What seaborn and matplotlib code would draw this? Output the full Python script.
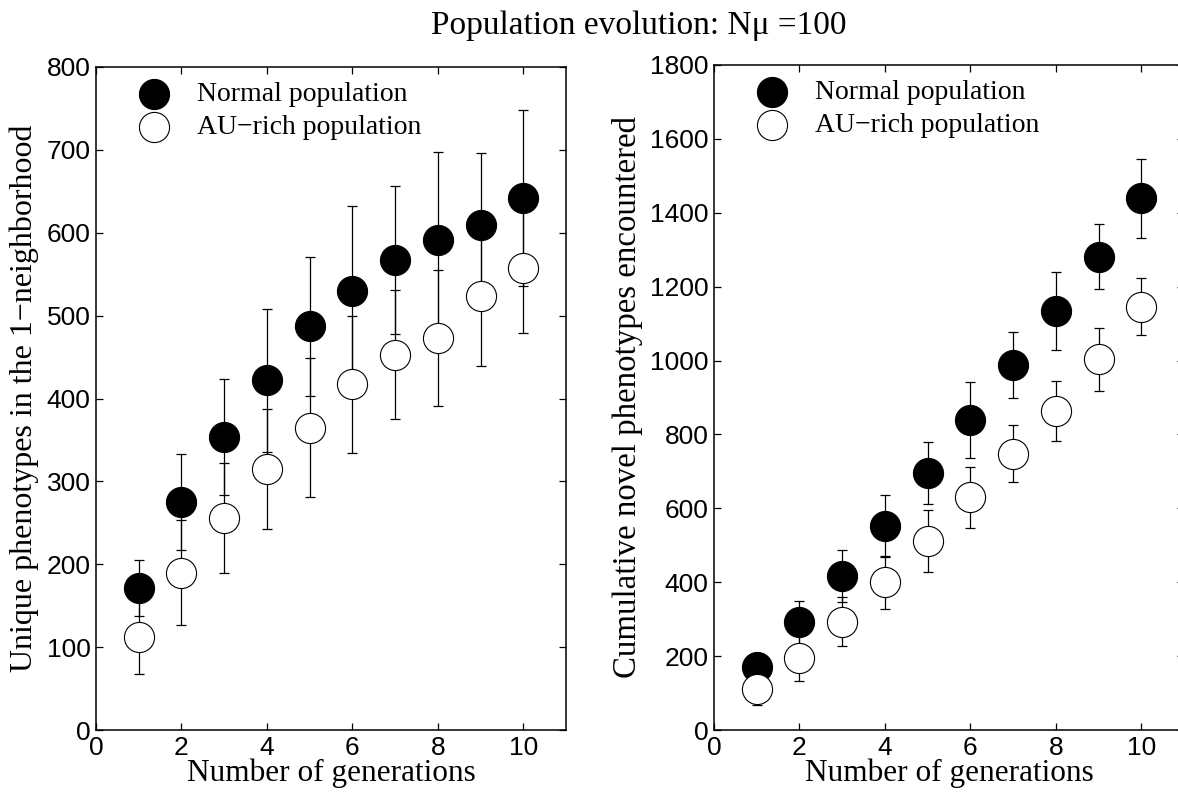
import matplotlib
matplotlib.use("Agg")
import matplotlib.pyplot as plt
import numpy as np
import pandas as pd
import seaborn as sns

# values
generations = [1, 2, 3, 4, 5, 6, 7, 8, 9, 10]

unique_normal = [171, 275, 353, 422, 487, 530, 567, 591, 609, 642]
unique_normal_err = [34, 58, 70, 86, 84, 102, 89, 106, 87, 106]
unique_au = [112, 190, 256, 315, 365, 417, 453, 473, 524, 557]
unique_au_err = [44, 63, 66, 72, 84, 83, 78, 82, 85, 78]

cumul_normal = [170, 291, 417, 552, 695, 839, 988, 1135, 1281, 1439]
cumul_normal_err = [34, 58, 70, 85, 84, 102, 88, 106, 88, 106]
cumul_au = [111, 196, 293, 400, 511, 630, 748, 864, 1003, 1146]
cumul_au_err = [44, 63, 66, 72, 84, 83, 78, 82, 85, 77]

label_normal = "Normal population"
label_au = "AU\u2212rich population"

sns.set_style("ticks", {"xtick.direction": "in", "ytick.direction": "in"})
plt.rcParams["font.family"] = ["Liberation Sans", "DejaVu Sans"]
plt.rcParams["axes.linewidth"] = 1.1
for k in ["text.color", "axes.labelcolor", "xtick.color", "ytick.color",
          "axes.edgecolor"]:
    plt.rcParams[k] = "black"
serif = ["Liberation Serif", "DejaVu Serif"]

W, H = 1178, 794
fig = plt.figure(figsize=(W / 100, H / 100), dpi=100)
ax0 = fig.add_axes([96 / W, (H - 730) / H, 470 / W, 663 / H])
ax1 = fig.add_axes([714 / W, (H - 730) / H, 470 / W, 665 / H])

panels = [
    (ax0, unique_normal, unique_normal_err, unique_au, unique_au_err,
     "Unique phenotypes in the 1\u2212neighborhood", 23, 800, 100),
    (ax1, cumul_normal, cumul_normal_err, cumul_au, cumul_au_err,
     "Cumulative novel phenotypes encountered", 23.7, 1800, 200),
]

for ax, yn, en, ya, ea, ylabel, ylsize, ymax, ystep in panels:
    df = pd.DataFrame({"gen": generations * 2,
                       "value": yn + ya,
                       "err": en + ea,
                       "pop": [label_normal] * 10 + [label_au] * 10})
    ax.errorbar(df["gen"], df["value"], yerr=df["err"], fmt="none",
                ecolor="black", elinewidth=0.9, capsize=3.5, capthick=0.9,
                zorder=1)
    sns.scatterplot(data=df[df["pop"] == label_normal], x="gen", y="value",
                    color="black", edgecolor="black", s=470, linewidth=0.8,
                    label=label_normal, ax=ax, zorder=2)
    sns.scatterplot(data=df[df["pop"] == label_au], x="gen", y="value",
                    color="white", edgecolor="black", s=470, linewidth=0.8,
                    label=label_au, ax=ax, zorder=3)

    ax.set_xlim(0, 11)
    ax.set_ylim(0, ymax)
    ax.set_xticks([0, 2, 4, 6, 8, 10])
    ax.set_yticks(np.arange(0, ymax + 1, ystep))
    ax.tick_params(axis="both", which="major", direction="in", length=5,
                   width=0.9, labelsize=19, top=True, right=True, pad=4)
    ax.set_xlabel("Number of generations", family=serif, fontsize=22.5,
                  labelpad=-1)
    ax.set_ylabel(ylabel, family=serif, fontsize=ylsize, labelpad=5)
    for s in ax.spines.values():
        s.set_visible(True)
        s.set_color("black")

    ax.legend(loc="upper left", bbox_to_anchor=(0.041, 0.995), frameon=False,
              prop={"family": serif, "size": 20},
              handletextpad=0.55, labelspacing=0.27,
              borderaxespad=0, borderpad=0.4)

fig.text(639 / W, 1 - 34 / H, "Population evolution: N\u03bc =100",
         family=serif, fontsize=24, ha="center", va="baseline")

fig.savefig("out.png", dpi=100)
